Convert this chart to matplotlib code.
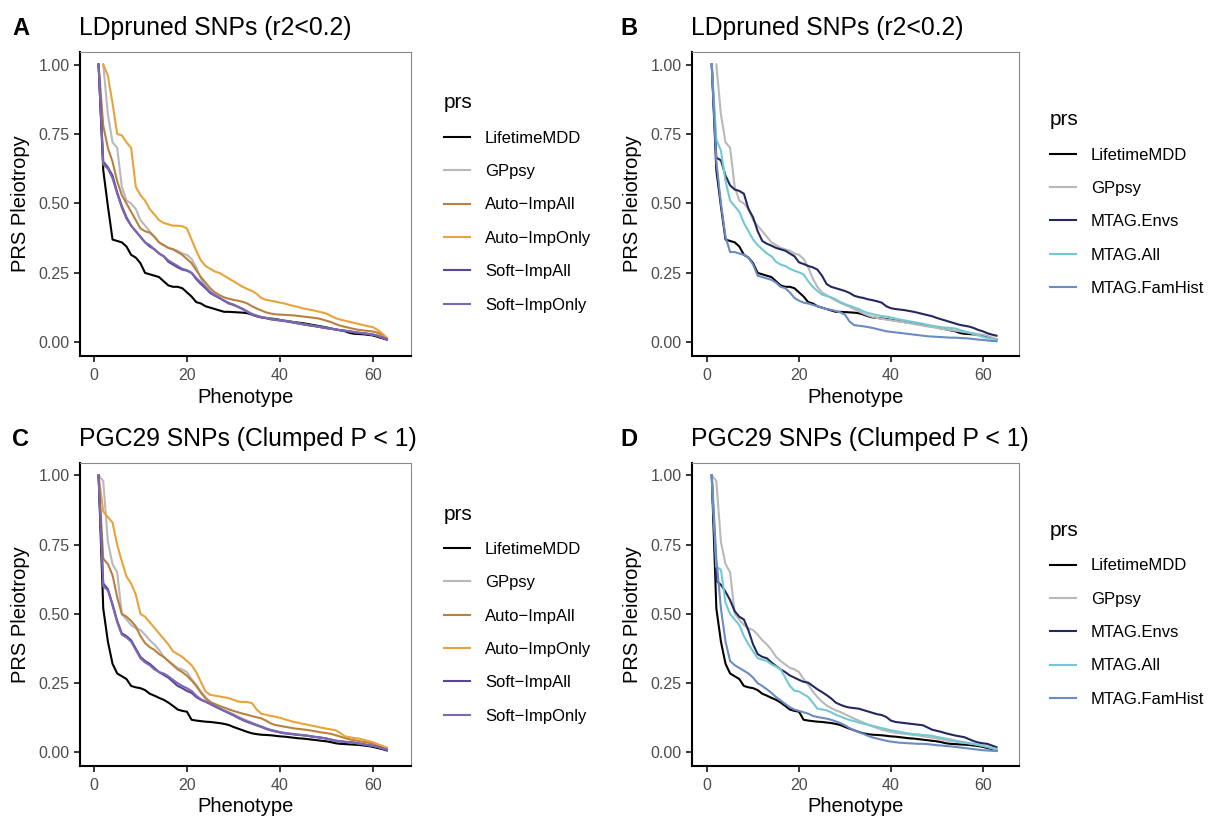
import numpy as np
import matplotlib
matplotlib.use("Agg")
import matplotlib.pyplot as plt

plt.rcParams["font.family"] = ["Liberation Sans", "DejaVu Sans"]

# ---- data ----
# LD pruned SNPs, panels A and B
ld_mdd = [1.00, 0.62, 0.49, 0.37, 0.365, 0.36, 0.345, 0.315, 0.305, 0.285,
          0.25, 0.245, 0.24, 0.235, 0.22, 0.205, 0.20, 0.20, 0.195, 0.18,
          0.165, 0.145, 0.14, 0.13, 0.125, 0.12, 0.115, 0.11, 0.11, 0.109,
          0.108, 0.107, 0.105, 0.10, 0.094, 0.09, 0.088, 0.086, 0.084, 0.081,
          0.078, 0.076, 0.073, 0.071, 0.069, 0.066, 0.063, 0.06, 0.057, 0.054,
          0.05, 0.047, 0.043, 0.04, 0.034, 0.031, 0.03, 0.029, 0.027, 0.025,
          0.02, 0.015, 0.01]
ld_gppsy = [1.00, 0.82, 0.72, 0.70, 0.56, 0.51, 0.50, 0.48, 0.44,
            0.42, 0.40, 0.38, 0.36, 0.35, 0.34, 0.335, 0.33, 0.32, 0.315,
            0.30, 0.27, 0.23, 0.20, 0.18, 0.17, 0.16, 0.15, 0.142, 0.135,
            0.128, 0.12, 0.112, 0.104, 0.097, 0.092, 0.088, 0.085, 0.082, 0.08,
            0.077, 0.075, 0.072, 0.069, 0.066, 0.063, 0.06, 0.057, 0.055, 0.052,
            0.049, 0.047, 0.044, 0.042, 0.04, 0.037, 0.035, 0.033, 0.03, 0.028,
            0.024, 0.018, 0.012]
ld_auto_all = [1.00, 0.78, 0.70, 0.65, 0.58, 0.53, 0.50, 0.47, 0.44, 0.41,
               0.40, 0.395, 0.38, 0.36, 0.35, 0.34, 0.335, 0.325, 0.315, 0.30,
               0.285, 0.26, 0.235, 0.215, 0.195, 0.18, 0.17, 0.162, 0.157, 0.153,
               0.15, 0.146, 0.14, 0.13, 0.122, 0.115, 0.108, 0.104, 0.101, 0.10,
               0.099, 0.098, 0.097, 0.095, 0.093, 0.091, 0.089, 0.087, 0.083, 0.078,
               0.073, 0.066, 0.06, 0.056, 0.052, 0.048, 0.045, 0.043, 0.041, 0.039,
               0.035, 0.027, 0.016]
ld_auto_only = [1.00, 0.96, 0.86, 0.75, 0.745, 0.72, 0.70, 0.56, 0.53,
                0.51, 0.48, 0.46, 0.44, 0.43, 0.425, 0.42, 0.42, 0.418, 0.41,
                0.37, 0.33, 0.295, 0.275, 0.265, 0.255, 0.25, 0.24, 0.23, 0.22,
                0.21, 0.20, 0.192, 0.185, 0.175, 0.16, 0.153, 0.15, 0.147, 0.143,
                0.14, 0.135, 0.131, 0.127, 0.122, 0.119, 0.116, 0.112, 0.108, 0.104,
                0.095, 0.087, 0.082, 0.078, 0.074, 0.07, 0.066, 0.062, 0.058, 0.055,
                0.045, 0.032, 0.016]
ld_soft_all = [1.00, 0.65, 0.63, 0.60, 0.54, 0.49, 0.45, 0.42, 0.40, 0.38,
               0.36, 0.345, 0.335, 0.32, 0.31, 0.29, 0.28, 0.27, 0.262, 0.258,
               0.25, 0.228, 0.21, 0.195, 0.178, 0.168, 0.16, 0.15, 0.14, 0.135,
               0.128, 0.12, 0.11, 0.10, 0.095, 0.09, 0.087, 0.083, 0.081, 0.079,
               0.077, 0.074, 0.071, 0.068, 0.065, 0.062, 0.06, 0.057, 0.054, 0.051,
               0.049, 0.046, 0.044, 0.042, 0.039, 0.037, 0.034, 0.032, 0.03, 0.028,
               0.024, 0.018, 0.012]
ld_soft_only = [1.00, 0.64, 0.625, 0.59, 0.535, 0.485, 0.445, 0.42, 0.40, 0.38,
                0.36, 0.35, 0.335, 0.32, 0.31, 0.295, 0.285, 0.275, 0.265, 0.26,
                0.25, 0.232, 0.215, 0.2, 0.182, 0.17, 0.16, 0.15, 0.142, 0.136,
                0.128, 0.12, 0.11, 0.101, 0.096, 0.091, 0.088, 0.084, 0.081, 0.079,
                0.077, 0.074, 0.071, 0.068, 0.065, 0.062, 0.06, 0.057, 0.054, 0.051,
                0.049, 0.046, 0.044, 0.042, 0.04, 0.037, 0.035, 0.033, 0.031, 0.028,
                0.024, 0.018, 0.012]
ld_mtag_envs = [1.00, 0.665, 0.655, 0.60, 0.565, 0.55, 0.545, 0.535, 0.48, 0.45,
                0.40, 0.365, 0.355, 0.348, 0.34, 0.335, 0.33, 0.32, 0.31, 0.288,
                0.282, 0.275, 0.27, 0.262, 0.24, 0.21, 0.20, 0.195, 0.19, 0.185,
                0.178, 0.168, 0.163, 0.16, 0.155, 0.152, 0.148, 0.143, 0.13, 0.123,
                0.12, 0.118, 0.116, 0.113, 0.11, 0.106, 0.102, 0.098, 0.094, 0.088,
                0.083, 0.078, 0.073, 0.068, 0.063, 0.06, 0.057, 0.052, 0.045, 0.04,
                0.033, 0.028, 0.024]
ld_mtag_all = [1.00, 0.73, 0.69, 0.58, 0.51, 0.49, 0.47, 0.43, 0.40, 0.37,
               0.35, 0.335, 0.32, 0.31, 0.29, 0.28, 0.275, 0.265, 0.258, 0.252,
               0.245, 0.22, 0.20, 0.185, 0.172, 0.167, 0.162, 0.155, 0.145, 0.138,
               0.132, 0.126, 0.12, 0.112, 0.106, 0.102, 0.098, 0.095, 0.093, 0.09,
               0.086, 0.082, 0.079, 0.076, 0.073, 0.07, 0.067, 0.063, 0.06, 0.057,
               0.055, 0.053, 0.052, 0.05, 0.045, 0.04, 0.035, 0.03, 0.025, 0.02,
               0.016, 0.012, 0.01]
ld_mtag_fam = [1.00, 0.65, 0.50, 0.38, 0.325, 0.325, 0.32, 0.315, 0.305, 0.28,
               0.24, 0.235, 0.23, 0.225, 0.215, 0.20, 0.195, 0.18, 0.16, 0.15,
               0.143, 0.14, 0.135, 0.13, 0.125, 0.12, 0.117, 0.113, 0.108, 0.10,
               0.075, 0.062, 0.06, 0.058, 0.055, 0.052, 0.048, 0.044, 0.04, 0.038,
               0.036, 0.034, 0.032, 0.03, 0.028, 0.026, 0.024, 0.022, 0.021, 0.02,
               0.019, 0.018, 0.017, 0.017, 0.016, 0.015, 0.014, 0.012, 0.01, 0.009,
               0.007, 0.005, 0.004]

# PGC29 clumped SNPs, panels C and D
pgc_mdd = [1.00, 0.52, 0.40, 0.32, 0.285, 0.275, 0.265, 0.24, 0.235, 0.232,
           0.225, 0.212, 0.205, 0.197, 0.19, 0.18, 0.168, 0.155, 0.15, 0.147,
           0.118, 0.115, 0.113, 0.111, 0.11, 0.108, 0.106, 0.103, 0.099, 0.092,
           0.086, 0.08, 0.074, 0.069, 0.066, 0.064, 0.063, 0.062, 0.06, 0.058,
           0.057, 0.055, 0.053, 0.051, 0.05, 0.048, 0.046, 0.044, 0.042, 0.04,
           0.037, 0.033, 0.031, 0.03, 0.029, 0.028, 0.027, 0.025, 0.023, 0.02,
           0.016, 0.012, 0.007]
pgc_gppsy = [1.00, 0.98, 0.76, 0.68, 0.65, 0.50, 0.48, 0.46, 0.448, 0.442,
             0.425, 0.405, 0.39, 0.37, 0.345, 0.33, 0.318, 0.305, 0.30, 0.29,
             0.265, 0.245, 0.22, 0.20, 0.183, 0.17, 0.16, 0.152, 0.146, 0.138,
             0.13, 0.122, 0.115, 0.108, 0.10, 0.094, 0.088, 0.082, 0.078, 0.074,
             0.071, 0.069, 0.067, 0.065, 0.063, 0.061, 0.058, 0.056, 0.053, 0.05,
             0.047, 0.043, 0.041, 0.039, 0.037, 0.035, 0.032, 0.03, 0.027, 0.024,
             0.02, 0.015, 0.01]
pgc_auto_all = [1.00, 0.70, 0.68, 0.64, 0.56, 0.50, 0.49, 0.475, 0.455, 0.42,
                0.395, 0.38, 0.37, 0.355, 0.345, 0.33, 0.315, 0.30, 0.29, 0.277,
                0.26, 0.24, 0.216, 0.195, 0.182, 0.175, 0.168, 0.162, 0.156, 0.15,
                0.145, 0.14, 0.136, 0.131, 0.127, 0.123, 0.115, 0.105, 0.099, 0.096,
                0.093, 0.09, 0.087, 0.085, 0.083, 0.081, 0.078, 0.075, 0.072, 0.07,
                0.067, 0.062, 0.057, 0.052, 0.047, 0.044, 0.041, 0.038, 0.035, 0.032,
                0.027, 0.02, 0.013]
pgc_auto_only = [1.00, 0.87, 0.85, 0.83, 0.75, 0.69, 0.635, 0.61, 0.57, 0.50,
                 0.49, 0.47, 0.45, 0.43, 0.41, 0.39, 0.365, 0.355, 0.345, 0.33,
                 0.315, 0.29, 0.255, 0.22, 0.208, 0.205, 0.202, 0.199, 0.196, 0.19,
                 0.184, 0.182, 0.182, 0.178, 0.155, 0.14, 0.136, 0.132, 0.129, 0.125,
                 0.12, 0.115, 0.11, 0.107, 0.103, 0.10, 0.096, 0.093, 0.089, 0.086,
                 0.083, 0.08, 0.07, 0.058, 0.055, 0.052, 0.05, 0.046, 0.041, 0.037,
                 0.03, 0.024, 0.017]
pgc_soft_all = [1.00, 0.61, 0.59, 0.535, 0.475, 0.43, 0.42, 0.405, 0.375, 0.345,
                0.33, 0.32, 0.305, 0.29, 0.28, 0.27, 0.255, 0.24, 0.232, 0.222,
                0.215, 0.20, 0.19, 0.183, 0.175, 0.166, 0.158, 0.15, 0.142, 0.134,
                0.125, 0.117, 0.11, 0.104, 0.098, 0.092, 0.085, 0.08, 0.076, 0.072,
                0.069, 0.067, 0.065, 0.063, 0.062, 0.06, 0.057, 0.055, 0.053, 0.05,
                0.046, 0.042, 0.04, 0.038, 0.037, 0.035, 0.032, 0.029, 0.026, 0.024,
                0.02, 0.015, 0.01]
pgc_soft_only = [1.00, 0.60, 0.585, 0.53, 0.47, 0.425, 0.415, 0.40, 0.37, 0.34,
                 0.325, 0.315, 0.30, 0.29, 0.285, 0.275, 0.262, 0.25, 0.24, 0.232,
                 0.222, 0.205, 0.192, 0.184, 0.176, 0.167, 0.159, 0.151, 0.143, 0.135,
                 0.126, 0.118, 0.111, 0.105, 0.099, 0.093, 0.086, 0.081, 0.077, 0.073,
                 0.07, 0.068, 0.066, 0.064, 0.062, 0.06, 0.057, 0.055, 0.053, 0.05,
                 0.046, 0.042, 0.04, 0.038, 0.037, 0.035, 0.032, 0.029, 0.026, 0.024,
                 0.02, 0.015, 0.01]
pgc_mtag_envs = [1.00, 0.62, 0.605, 0.58, 0.55, 0.51, 0.49, 0.48, 0.44, 0.39,
                 0.355, 0.345, 0.34, 0.325, 0.312, 0.30, 0.29, 0.278, 0.27, 0.262,
                 0.255, 0.252, 0.24, 0.228, 0.218, 0.207, 0.195, 0.18, 0.172, 0.166,
                 0.162, 0.16, 0.158, 0.153, 0.148, 0.143, 0.138, 0.135, 0.128, 0.115,
                 0.11, 0.108, 0.106, 0.104, 0.102, 0.10, 0.098, 0.09, 0.082, 0.078,
                 0.074, 0.069, 0.065, 0.061, 0.058, 0.055, 0.048, 0.041, 0.036, 0.033,
                 0.031, 0.025, 0.019]
pgc_mtag_all = [1.00, 0.67, 0.66, 0.54, 0.50, 0.48, 0.46, 0.42, 0.39, 0.365,
                0.34, 0.335, 0.33, 0.318, 0.31, 0.30, 0.27, 0.24, 0.223, 0.22,
                0.21, 0.20, 0.18, 0.158, 0.155, 0.152, 0.145, 0.136, 0.13, 0.123,
                0.117, 0.113, 0.108, 0.104, 0.10, 0.096, 0.092, 0.088, 0.084, 0.08,
                0.077, 0.074, 0.071, 0.068, 0.066, 0.065, 0.063, 0.062, 0.06, 0.056,
                0.053, 0.05, 0.047, 0.043, 0.04, 0.037, 0.034, 0.031, 0.027, 0.024,
                0.02, 0.016, 0.013]
pgc_mtag_fam = [1.00, 0.70, 0.52, 0.40, 0.33, 0.315, 0.305, 0.295, 0.285, 0.27,
                0.25, 0.24, 0.228, 0.215, 0.20, 0.188, 0.175, 0.163, 0.155, 0.15,
                0.145, 0.14, 0.132, 0.128, 0.125, 0.122, 0.118, 0.112, 0.106, 0.098,
                0.088, 0.08, 0.073, 0.067, 0.06, 0.054, 0.05, 0.046, 0.042, 0.039,
                0.037, 0.035, 0.034, 0.033, 0.032, 0.031, 0.031, 0.03, 0.028, 0.026,
                0.025, 0.023, 0.022, 0.02, 0.018, 0.016, 0.014, 0.012, 0.01, 0.008,
                0.007, 0.006, 0.005]

names_left = ["LifetimeMDD", "GPpsy", "Auto\u2212ImpAll", "Auto\u2212ImpOnly",
              "Soft\u2212ImpAll", "Soft\u2212ImpOnly"]
colors_left = ["#000000", "#b9b9b9", "#b9813f", "#e8a33b", "#5c4497", "#7b67b2"]
names_right = ["LifetimeMDD", "GPpsy", "MTAG.Envs", "MTAG.All", "MTAG.FamHist"]
colors_right = ["#000000", "#b9b9b9", "#25285c", "#74c9d0", "#6b8bc3"]

W, H = 1213, 816
fig = plt.figure(figsize=(W / 100, H / 100), dpi=100)


def rect(l, t, r, b):
    return [l / W, 1 - b / H, (r - l) / W, (b - t) / H]


def panel(box, xlim, letter, letter_x, title, series, names, colors, leg_x, dy):
    ax = fig.add_axes(rect(*box))
    for vals, name, col in zip(series, names, colors):
        x = np.arange(64 - len(vals), 64)
        ax.plot(x, vals, color=col, lw=1.5, label=name)
    ax.set_xlim(*xlim)
    ax.set_ylim(-0.049, 1.045)
    ax.set_xticks([0, 20, 40, 60])
    ax.set_yticks([0, 0.25, 0.5, 0.75, 1.0])
    ax.set_yticklabels(["0.00", "0.25", "0.50", "0.75", "1.00"])
    ax.tick_params(direction="out", length=4.5, width=1.1, color="black",
                   labelsize=11.5, labelcolor="#4d4d4d")
    ax.tick_params(axis="x", pad=4)
    ax.tick_params(axis="y", pad=3)
    for s in ["left", "bottom"]:
        ax.spines[s].set_color("black")
        ax.spines[s].set_linewidth(1.5)
    for s in ["top", "right"]:
        ax.spines[s].set_color("#8a8a8a")
        ax.spines[s].set_linewidth(0.8)
    l, t, r, b = box
    fig.text(letter_x / W, 1 - (35 + dy) / H, letter, fontsize=17,
             fontweight="bold", va="baseline", ha="left")
    fig.text((l - 1) / W, 1 - (35 + dy) / H, title, fontsize=17.8,
             va="baseline", ha="left")
    fig.text((l - 59) / W, 1 - (b + t) / 2 / H, "PRS Pleiotropy", fontsize=14.5,
             rotation=90, ha="center", va="center")
    fig.text((l + r) / 2 / W, 1 - (b + 41) / H, "Phenotype", fontsize=14.5,
             ha="center", va="center")
    fig.legend(*ax.get_legend_handles_labels(), loc="center left",
               bbox_to_anchor=(leg_x / W, 1 - (203 + dy) / H), frameon=False,
               title="prs", title_fontsize=15, fontsize=12, handlelength=1.55,
               handletextpad=0.9, labelspacing=1.1, borderpad=0,
               borderaxespad=0, alignment="left")
    return ax


left_ld = [ld_mdd, ld_gppsy, ld_auto_all, ld_auto_only, ld_soft_all, ld_soft_only]
right_ld = [ld_mdd, ld_gppsy, ld_mtag_envs, ld_mtag_all, ld_mtag_fam]
left_pgc = [pgc_mdd, pgc_gppsy, pgc_auto_all, pgc_auto_only, pgc_soft_all, pgc_soft_only]
right_pgc = [pgc_mdd, pgc_gppsy, pgc_mtag_envs, pgc_mtag_all, pgc_mtag_fam]

panel((80, 52, 411, 356), (-3.0, 68.2), "A", 12, "LDpruned SNPs (r2<0.2)",
      left_ld, names_left, colors_left, 444, 0)
panel((692, 52, 1019, 356), (-3.3, 67.9), "B", 620, "LDpruned SNPs (r2<0.2)",
      right_ld, names_right, colors_right, 1050, 0)
panel((80, 463, 411, 766), (-3.0, 68.2), "C", 12, "PGC29 SNPs (Clumped P < 1)",
      left_pgc, names_left, colors_left, 444, 411)
panel((692, 463, 1019, 766), (-3.3, 67.9), "D", 620, "PGC29 SNPs (Clumped P < 1)",
      right_pgc, names_right, colors_right, 1050, 411)

fig.savefig("out.png", dpi=100, facecolor="white")
